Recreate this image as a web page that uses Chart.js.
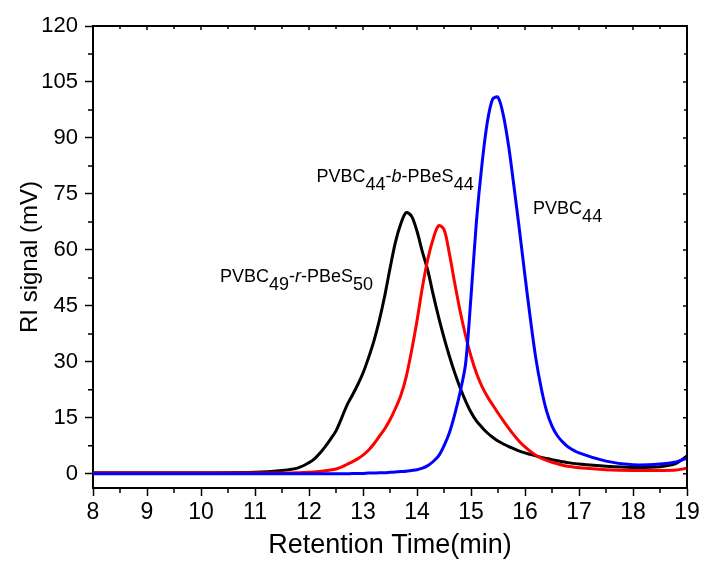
<!DOCTYPE html>
<html>
<head>
<meta charset="utf-8">
<script src="https://cdn.jsdelivr.net/npm/chart.js@4.4.1/dist/chart.umd.min.js"></script>
<style>html,body{margin:0;padding:0;background:#fff}</style>
</head>
<body>
<canvas id="gpc" width="706" height="563"></canvas>
<script>
// GPC traces
const retentionTime = [8, 9, 10, 11, 11.5, 11.8,
  12.0, 12.1, 12.2, 12.3, 12.4, 12.5, 12.6, 12.7, 12.8, 12.9,
  13.0, 13.1, 13.2, 13.3, 13.4, 13.5, 13.6, 13.7, 13.8, 13.9,
  14.0, 14.1, 14.2, 14.3, 14.4, 14.5, 14.6, 14.7, 14.8, 14.9,
  15.0, 15.1, 15.2, 15.3, 15.4, 15.5, 15.6, 15.7, 15.8, 15.9,
  16.0, 16.1, 16.2, 16.3, 16.4, 16.5, 16.6, 16.7,
  16.8, 17.0, 17.5, 18.0, 18.5, 18.8, 19.0];

const randomCopolymer = [0.3, 0.3, 0.3, 0.4, 0.9, 1.6,
  3.0, 4.0, 5.5, 7.3, 9.3, 11.5, 14.8, 18.3, 21.0, 23.8,
  27.0, 31.0, 35.5, 41.0, 47.5, 55.0, 62.0, 67.0, 70.0, 69.0,
  65.0, 59.5, 54.5, 48.0, 42.0, 36.5, 31.5, 27.0, 23.0, 19.5,
  16.5, 14.2, 12.5, 11.0, 9.8, 8.8, 8.0, 7.3, 6.7, 6.1,
  5.6, 5.2, 4.8, 4.4, 4.1, 3.8, 3.5, 3.25,
  3.0, 2.6, 2.0, 1.7, 1.9, 2.8, 4.8];

const blockCopolymer = [0.2, 0.2, 0.2, 0.2, 0.2, 0.3,
  0.4, 0.5, 0.6, 0.8, 1.0, 1.3, 1.8, 2.5, 3.2, 4.0,
  5.0, 6.3, 8.0, 10.0, 12.0, 14.5, 17.5, 21.0, 26.0, 33.0,
  41.0, 50.0, 57.5, 63.0, 66.5, 65.5, 59.0, 51.0, 43.5, 37.0,
  31.5, 27.0, 23.5, 20.8, 18.5, 16.3, 14.2, 12.2, 10.3, 8.6,
  7.2, 6.0, 5.0, 4.2, 3.6, 3.1, 2.7, 2.3,
  2.0, 1.6, 1.1, 0.9, 0.9, 1.0, 1.5];

const homopolymer = [0, 0, 0, 0, 0, 0,
  0, 0, 0, 0, 0, 0, 0, 0, 0.1, 0.1,
  0.1, 0.2, 0.2, 0.3, 0.3, 0.4, 0.5, 0.6, 0.7, 0.9,
  1.1, 1.5, 2.2, 3.3, 4.8, 7.5, 11.0, 16.0, 22.0, 29.5,
  47.5, 67.5, 82.5, 94.0, 100.4, 100.9, 96.0, 87.5, 76.5, 65.0,
  53.0, 41.5, 31.0, 23.0, 16.8, 12.8, 10.2, 8.5,
  7.2, 5.6, 3.4, 2.4, 2.6, 3.2, 4.2];

const xTicks = [8, 9, 10, 11, 12, 13, 14, 15, 16, 17, 18, 19];
const xMinor = [8.5, 9.5, 10.5, 11.5, 12.5, 13.5, 14.5, 15.5, 16.5, 17.5, 18.5];
const yTicks = [0, 15, 30, 45, 60, 75, 90, 105, 120];
const yMinor = [7.5, 22.5, 37.5, 52.5, 67.5, 82.5, 97.5, 112.5];

// curve labels: parts are [text, kind]
const labels = [
  { at: [12.14, 78.3], parts: [['PVBC', 'n'], ['44', 's'], ['-', 'n'], ['b', 'i'], ['-PBeS', 'n'], ['44', 's']] },
  { at: [10.35, 51.5], parts: [['PVBC', 'n'], ['49', 's'], ['-', 'n'], ['r', 'i'], ['-PBeS', 'n'], ['50', 's']] },
  { at: [16.15, 69.6], parts: [['PVBC', 'n'], ['44', 's']] }
];

const FONT = '"Liberation Sans", Arial, sans-serif';

function pts(ys){ return retentionTime.map((t,i)=>({x:t, y:ys[i]})); }

const framePlugin = {
  id: 'frame',
  afterDraw(chart){
    const {ctx, chartArea:a, scales:{x, y}} = chart;
    ctx.save();
    ctx.strokeStyle = '#000';
    ctx.lineWidth = 2;
    ctx.beginPath();
    ctx.moveTo(a.left, a.top); ctx.lineTo(a.right, a.top); ctx.lineTo(a.right, a.bottom);
    ctx.stroke();
    ctx.lineWidth = 1.5;
    ctx.beginPath();
    xMinor.forEach(v=>{ const p=x.getPixelForValue(v); ctx.moveTo(p,a.bottom); ctx.lineTo(p,a.bottom+5); ctx.moveTo(p,a.top); ctx.lineTo(p,a.top+3); });
    xTicks.forEach(v=>{ const p=x.getPixelForValue(v); ctx.moveTo(p,a.top); ctx.lineTo(p,a.top+4); });
    yMinor.forEach(v=>{ const p=y.getPixelForValue(v); ctx.moveTo(a.left,p); ctx.lineTo(a.left-5,p); ctx.moveTo(a.right,p); ctx.lineTo(a.right-3,p); });
    yTicks.forEach(v=>{ const p=y.getPixelForValue(v); ctx.moveTo(a.right,p); ctx.lineTo(a.right-4,p); });
    ctx.stroke();

    // curve labels
    ctx.fillStyle = '#000';
    ctx.textBaseline = 'alphabetic';
    labels.forEach(l=>{
      let px = x.getPixelForValue(l.at[0]);
      const py = y.getPixelForValue(l.at[1]);
      l.parts.forEach(([txt, kind])=>{
        ctx.font = (kind==='i' ? 'italic ' : '') + '18px ' + FONT;
        ctx.fillText(txt, px, kind==='s' ? py+8 : py);
        px += ctx.measureText(txt).width;
      });
    });
    ctx.restore();
  }
};

function series(label, data, color, order){
  return { label, data: pts(data), borderColor: color, backgroundColor: color,
    borderWidth: 3, pointRadius: 0, tension: 0.3, fill: false, order };
}

new Chart(document.getElementById('gpc'), {
  type: 'line',
  data: { datasets: [
    series('PVBC49-r-PBeS50', randomCopolymer, '#000000', 3),
    series('PVBC44-b-PBeS44', blockCopolymer, '#ff0000', 2),
    series('PVBC44', homopolymer, '#0000ff', 1)
  ]},
  options: {
    responsive: false,
    animation: false,
    devicePixelRatio: 1,
    layout: { padding: { left: 0, top: 26, right: 19, bottom: 0 } },
    plugins: { legend: { display: false }, tooltip: { enabled: false } },
    scales: {
      x: {
        type: 'linear', min: 8, max: 19,
        afterBuildTicks: s => { s.ticks = xTicks.map(v=>({value:v})); },
        afterFit: s => { s.height = 75; },
        border: { color: '#000', width: 2 },
        grid: { drawOnChartArea: false, tickLength: 8, tickWidth: 1.5, tickColor: '#000' },
        ticks: { color: '#000', font: { family: FONT, size: 23 }, padding: 3, maxRotation: 0 },
        title: { display: true, text: 'Retention Time(min)', color: '#000',
          font: { family: FONT, size: 27 }, padding: { top: 0, bottom: 1 } }
      },
      y: {
        type: 'linear', min: -3.8, max: 120,
        afterBuildTicks: s => { s.ticks = yTicks.map(v=>({value:v})); },
        afterFit: s => { s.width = 93; },
        border: { color: '#000', width: 2 },
        grid: { drawOnChartArea: false, tickLength: 8, tickWidth: 1.5, tickColor: '#000' },
        ticks: { color: '#000', font: { family: FONT, size: 22 }, padding: 7 },
        title: { display: true, text: 'RI signal (mV)', color: '#000',
          font: { family: FONT, size: 24 }, padding: { top: 16, bottom: 0 } }
      }
    }
  },
  plugins: [framePlugin]
});
</script>
</body>
</html>
